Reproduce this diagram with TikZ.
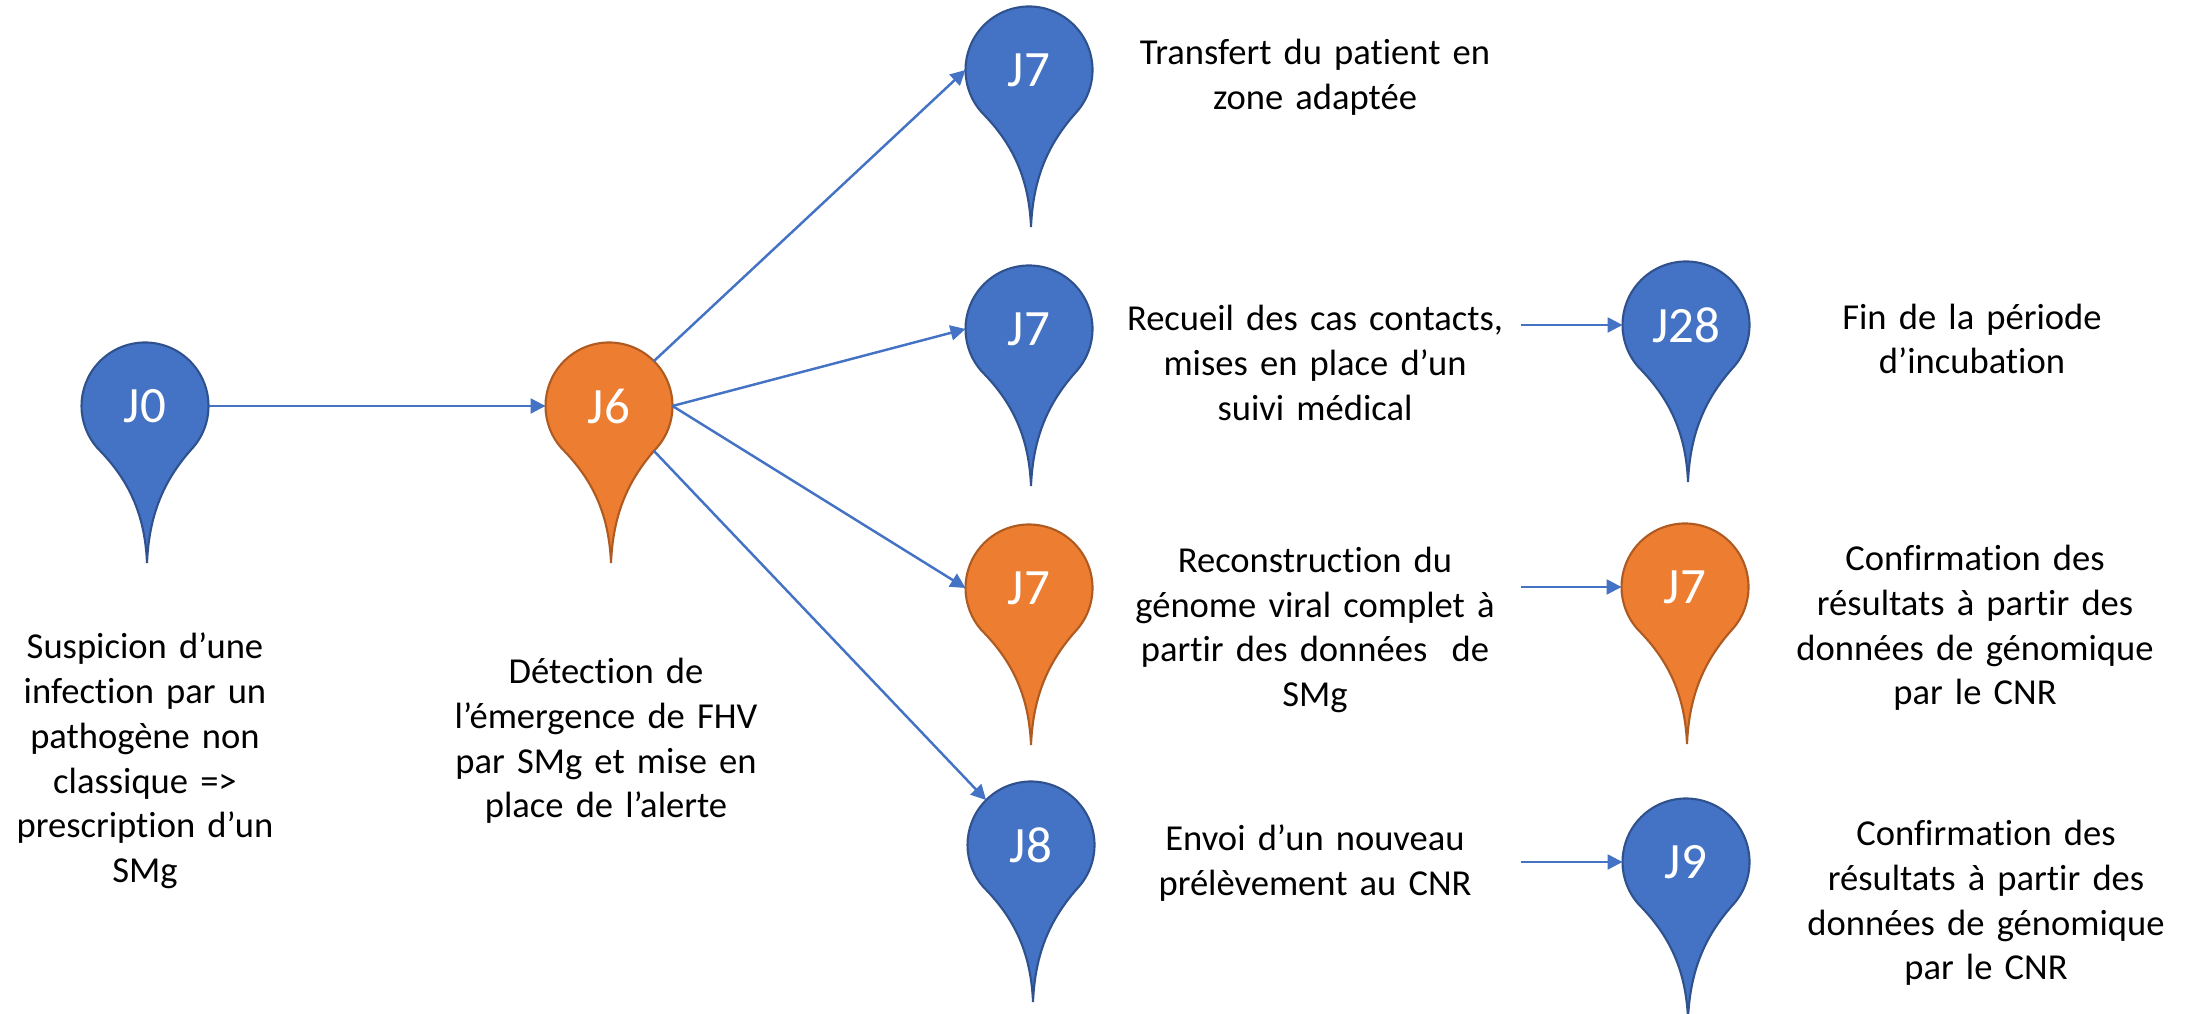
\documentclass[tikz,border=0pt]{standalone}
\usepackage{fontspec}
\setmainfont[Ligatures=NoCommon,WordSpace=0.8]{Carlito}
\usetikzlibrary{arrows.meta}
\definecolor{pinblue}{HTML}{4472C4}
\definecolor{pinblueline}{HTML}{2F528F}
\definecolor{pinorange}{HTML}{ED7D31}
\definecolor{pinorangeline}{HTML}{AE5A21}
\tikzset{
    bluepin/.style={draw=pinblueline, fill=pinblue, line width=0.6pt},
    orangepin/.style={draw=pinorangeline, fill=pinorange, line width=0.6pt},
    pinlabel/.style={circle, inner sep=0pt, outer sep=0pt, minimum size=1.27cm, text=white, font=\fontsize{14.5}{17}\selectfont},
    desc/.style={align=center, inner sep=0pt, outer sep=0pt, text width=4.12cm, font=\fontsize{10.4}{12.75}\selectfont},
    link/.style={-{Triangle[length=1.5mm, width=1.5mm]}, draw=pinblue, line width=0.7pt},
    pics/dropmark/.style={code={
        \draw[pic actions] (-42.5:0.635) arc (-42.5:222.5:0.635)
            .. controls (-0.15,-0.75) and (0,-1.10) .. (0.02,-1.57)
            .. controls (0.04,-1.10) and (0.18,-0.75) .. cycle;
        \node[pinlabel] (-head) at (0,0) {#1};
    }}
}
\begin{document}
\begin{tikzpicture}
    \useasboundingbox (0,0) rectangle (21.91,10.14);

    % Define pins
    \pic[bluepin] (j0) at (1.45,6.08) {dropmark=J0};
    \pic[orangepin] (j6) at (6.09,6.08) {dropmark=J6};
    \pic[bluepin] (transfer) at (10.29,9.44) {dropmark=J7};
    \pic[bluepin] (contacts) at (10.29,6.85) {dropmark=J7};
    \pic[orangepin] (genome) at (10.29,4.26) {dropmark=J7};
    \pic[bluepin] (sample) at (10.31,1.69) {dropmark=J8};
    \pic[bluepin] (incub) at (16.86,6.89) {dropmark=J28};
    \pic[orangepin] (confirma) at (16.85,4.27) {dropmark=J7};
    \pic[bluepin] (confirmb) at (16.86,1.52) {dropmark=J9};

    % Add texts
    \node[desc] (tj0) at (1.45,2.53) {Suspicion d’une\\infection par un\\pathogène non\\classique =>\\prescription d’un\\SMg};
    \node[desc] (tj6) at (6.06,2.73) {Détection de\\l’émergence de FHV\\par SMg et mise en\\place de l’alerte};
    \node[desc] (ttransfer) at (13.15,9.37) {Transfert du patient en\\zone adaptée};
    \node[desc] (tcontacts) at (13.15,6.51) {Recueil des cas contacts,\\mises en place d’un\\suivi médical};
    \node[desc] (tgenome) at (13.15,3.84) {Reconstruction du\\génome viral complet à\\partir des données\ \ de\\SMg};
    \node[desc] (tsample) at (13.15,1.51) {Envoi d’un nouveau\\prélèvement au CNR};
    \node[desc] (tincub) at (19.72,6.75) {Fin de la période\\d’incubation};
    \node[desc] (tconfirma) at (19.75,3.86) {Confirmation des\\résultats à partir des\\données de génomique\\par le CNR};
    \node[desc] (tconfirmb) at (19.86,1.11) {Confirmation des\\résultats à partir des\\données de génomique\\par le CNR};

    % Draw edges
    \draw[link] (j0-head.east) -- (j6-head.west);
    \draw[link] (j6-head.45) -- (transfer-head.west);
    \draw[link] (j6-head.east) -- (contacts-head.west);
    \draw[link] (j6-head.east) -- (genome-head.west);
    \draw[link] (j6-head.-45) -- (sample-head.135);
    \draw[link] (tcontacts.east |- incub-head.west) -- (incub-head.west);
    \draw[link] (tgenome.east |- confirma-head.west) -- (confirma-head.west);
    \draw[link] (tsample.east |- confirmb-head.west) -- (confirmb-head.west);
\end{tikzpicture}
\end{document}
